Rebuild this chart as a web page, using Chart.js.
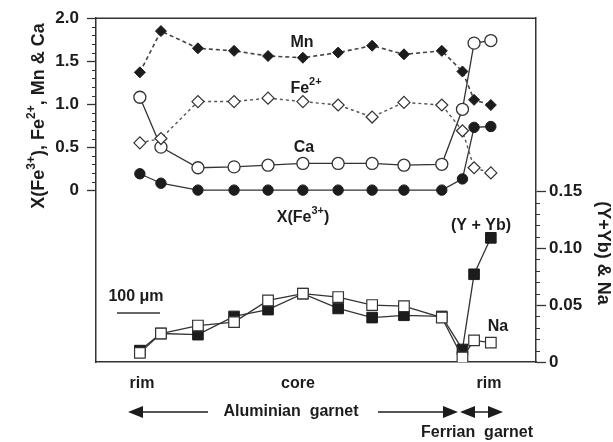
<!DOCTYPE html>
<html>
<head>
<meta charset="utf-8">
<script src="https://cdn.jsdelivr.net/npm/chart.js@4.4.1/dist/chart.umd.min.js"></script>
<style>
html,body{margin:0;padding:0;background:#fff;}
canvas{display:block;}
</style>
</head>
<body>
<canvas id="c" width="613" height="442"></canvas>
<script>
// distance along traverse (µm)
const distance = [102, 151, 237, 321, 400, 481, 563, 642, 716, 804, 852, 879, 918];
// left axis series (atoms p.f.u.)
const mn  = [1.37, 1.85, 1.65, 1.62, 1.56, 1.54, 1.60, 1.68, 1.58, 1.62, 1.38, 1.05, 0.99];
const fe2 = [0.55, 0.60, 1.03, 1.03, 1.07, 1.03, 0.99, 0.85, 1.02, 0.99, 0.69, 0.26, 0.20];
const ca  = [1.08, 0.50, 0.26, 0.27, 0.29, 0.31, 0.31, 0.31, 0.29, 0.30, 0.94, 1.71, 1.74];
const xfe3 = [0.19, 0.08, 0, 0, 0, 0, 0, 0, 0, 0, 0.13, 0.73, 0.74];
// right axis series
const yyb = [0.010, 0.025, 0.024, 0.040, 0.046, 0.060, 0.047, 0.039, 0.041, 0.040, 0.011, 0.077, 0.109];
const na  = [0.008, 0.025, 0.032, 0.035, 0.054, 0.060, 0.057, 0.050, 0.049, 0.039, 0.004, 0.019, 0.017];
// tick labels
const leftTicks = [0, 0.5, 1.0, 1.5, 2.0];
const rightTicks = [0, 0.05, 0.10, 0.15];

const INK = '#1c1c1c';
const LINE = '#333';
const FONT = '"Liberation Sans", Arial, sans-serif';

function pts(ys) { return distance.map((x, i) => ({x: x, y: ys[i]})); }

function drawRich(ctx, parts, x, y, size, align) {
  const supSize = Math.round(size * 0.66);
  let total = 0;
  parts.forEach(p => {
    ctx.font = 'bold ' + (p.sup ? supSize : size) + 'px ' + FONT;
    total += ctx.measureText(p.t).width;
  });
  let cx = align === 'center' ? x - total / 2 : (align === 'right' ? x - total : x);
  ctx.textAlign = 'left';
  ctx.textBaseline = 'middle';
  parts.forEach(p => {
    ctx.font = 'bold ' + (p.sup ? supSize : size) + 'px ' + FONT;
    ctx.fillText(p.t, cx, p.sup ? y - size * 0.42 : y);
    cx += ctx.measureText(p.t).width;
  });
}

function arrowHead(ctx, tipX, y, dir) {
  ctx.beginPath();
  ctx.moveTo(tipX, y);
  ctx.lineTo(tipX - dir * 15, y - 6);
  ctx.lineTo(tipX - dir * 15, y + 6);
  ctx.closePath();
  ctx.fill();
}

const decor = {
  id: 'decor',
  afterDraw(chart) {
    const ctx = chart.ctx;
    const a = chart.chartArea;
    const yL = chart.scales.yL, yR = chart.scales.yR;
    ctx.save();
    ctx.strokeStyle = LINE;
    ctx.fillStyle = INK;
    // top frame line
    ctx.lineWidth = 1.5;
    ctx.beginPath(); ctx.moveTo(a.left, a.top); ctx.lineTo(a.right, a.top); ctx.stroke();
    // minor ticks
    ctx.lineWidth = 1;
    for (let i = 1; i < 20; i++) {
      if (i % 5 === 0) continue;
      const py = Math.round(yL.getPixelForValue(i / 10)) + 0.5;
      ctx.beginPath(); ctx.moveTo(a.left - 4, py); ctx.lineTo(a.left, py); ctx.stroke();
    }
    for (let i = 1; i < 15; i++) {
      if (i % 5 === 0) continue;
      const py = Math.round(yR.getPixelForValue(i / 100)) + 0.5;
      ctx.beginPath(); ctx.moveTo(a.right, py); ctx.lineTo(a.right + 4, py); ctx.stroke();
    }
    // axis titles
    ctx.save();
    ctx.translate(39, 116);
    ctx.rotate(-Math.PI / 2);
    drawRich(ctx, [{t: 'X(Fe'}, {t: '3+', sup: true}, {t: '), Fe'}, {t: '2+', sup: true}, {t: ', Mn & Ca'}], 0, 0, 18, 'center');
    ctx.restore();
    ctx.save();
    ctx.translate(603, 253);
    ctx.rotate(Math.PI / 2);
    drawRich(ctx, [{t: '(Y+Yb) & Na'}], 0, 0, 18, 'center');
    ctx.restore();
    // series labels
    drawRich(ctx, [{t: 'Mn'}], 302, 43, 16, 'center');
    drawRich(ctx, [{t: 'Fe'}, {t: '2+', sup: true}], 306, 89, 16, 'center');
    drawRich(ctx, [{t: 'Ca'}], 304, 148, 16, 'center');
    drawRich(ctx, [{t: 'X(Fe'}, {t: '3+', sup: true}, {t: ')'}], 303, 218, 16, 'center');
    drawRich(ctx, [{t: '(Y + Yb)'}], 481, 226, 16, 'center');
    drawRich(ctx, [{t: 'Na'}], 498, 327, 16, 'center');
    // scale bar
    drawRich(ctx, [{t: '100 \u03BCm'}], 136, 297, 16, 'center');
    ctx.lineWidth = 1.5;
    ctx.beginPath(); ctx.moveTo(117, 313); ctx.lineTo(160, 313); ctx.stroke();
    // bottom annotations
    drawRich(ctx, [{t: 'rim'}], 142, 384, 16, 'center');
    drawRich(ctx, [{t: 'core'}], 298, 384, 16, 'center');
    drawRich(ctx, [{t: 'rim'}], 489, 384, 16, 'center');
    drawRich(ctx, [{t: 'Aluminian  garnet'}], 291, 412, 16, 'center');
    drawRich(ctx, [{t: 'Ferrian  garnet'}], 477, 433, 16, 'center');
    ctx.lineWidth = 1.5;
    ctx.strokeStyle = INK;
    ctx.beginPath(); ctx.moveTo(135, 412); ctx.lineTo(208, 412); ctx.stroke();
    arrowHead(ctx, 128, 412, -1);
    ctx.beginPath(); ctx.moveTo(378, 412); ctx.lineTo(450, 412); ctx.stroke();
    arrowHead(ctx, 458, 412, 1);
    ctx.beginPath(); ctx.moveTo(468, 412); ctx.lineTo(495, 412); ctx.stroke();
    arrowHead(ctx, 460, 412, -1);
    arrowHead(ctx, 503, 412, 1);
    ctx.restore();
  }
};

Chart.defaults.font.family = FONT;
Chart.defaults.font.weight = 'bold';
Chart.defaults.font.size = 17;
Chart.defaults.color = INK;

new Chart(document.getElementById('c'), {
  type: 'line',
  data: {
    datasets: [
      {label: 'Mn', data: pts(mn), yAxisID: 'yL', borderColor: '#444', borderWidth: 1.6, borderDash: [4, 3],
       pointStyle: 'rectRot', pointRadius: 5.5, pointBackgroundColor: '#1c1c1c', pointBorderColor: '#1c1c1c', pointBorderWidth: 1},
      {label: 'Fe2+', data: pts(fe2), yAxisID: 'yL', borderColor: '#555', borderWidth: 1.4, borderDash: [3, 3],
       pointStyle: 'rectRot', pointRadius: 6, pointBackgroundColor: '#fff', pointBorderColor: '#333', pointBorderWidth: 1.2},
      {label: 'Ca', data: pts(ca), yAxisID: 'yL', borderColor: '#333', borderWidth: 1.3,
       pointStyle: 'circle', pointRadius: 6, pointBackgroundColor: '#fff', pointBorderColor: '#333', pointBorderWidth: 1.3},
      {label: 'X(Fe3+)', data: pts(xfe3), yAxisID: 'yL', borderColor: '#333', borderWidth: 1.3,
       pointStyle: 'circle', pointRadius: 5.2, pointBackgroundColor: '#1c1c1c', pointBorderColor: '#1c1c1c', pointBorderWidth: 1},
      {label: 'Na', data: pts(na), yAxisID: 'yR', borderColor: '#333', borderWidth: 1.3,
       pointStyle: 'rect', pointRadius: 7.5, pointBackgroundColor: '#fff', pointBorderColor: '#333', pointBorderWidth: 1.2},
      {label: 'Y+Yb', data: pts(yyb), yAxisID: 'yR', borderColor: '#333', borderWidth: 1.3,
       pointStyle: 'rect', pointRadius: 7.5, pointBackgroundColor: '#1c1c1c', pointBorderColor: '#1c1c1c', pointBorderWidth: 1}
    ]
  },
  options: {
    responsive: false,
    animation: false,
    devicePixelRatio: 1,
    layout: {padding: {top: 18, left: 0, right: 0, bottom: 0}},
    plugins: {legend: {display: false}, tooltip: {enabled: false}},
    elements: {line: {tension: 0, fill: false}},
    scales: {
      x: {
        type: 'linear', min: 0, max: 1023,
        ticks: {display: false},
        grid: {display: false, drawTicks: false},
        border: {display: true, color: LINE, width: 1.5},
        afterFit(s) { s.height = 80; }
      },
      yL: {
        type: 'linear', position: 'left', min: -2, max: 2,
        afterBuildTicks(s) { s.ticks = leftTicks.map(v => ({value: v})); },
        ticks: {autoSkip: false, padding: 8, callback: v => v === 0 ? '0' : v.toFixed(1)},
        grid: {drawOnChartArea: false, drawTicks: true, tickLength: 9, tickColor: LINE, tickWidth: 1.3},
        border: {display: true, color: LINE, width: 1.5},
        afterFit(s) { s.width = 96; }
      },
      yR: {
        type: 'linear', position: 'right', min: 0, max: 0.3018,
        afterBuildTicks(s) { s.ticks = rightTicks.map(v => ({value: v})); },
        ticks: {autoSkip: false, padding: 3, callback: v => v === 0 ? '0' : v.toFixed(2)},
        grid: {drawOnChartArea: false, drawTicks: true, tickLength: 10, tickColor: LINE, tickWidth: 1.3},
        border: {display: true, color: LINE, width: 1.5},
        afterFit(s) { s.width = 77; }
      }
    }
  },
  plugins: [decor]
});
</script>
</body>
</html>
